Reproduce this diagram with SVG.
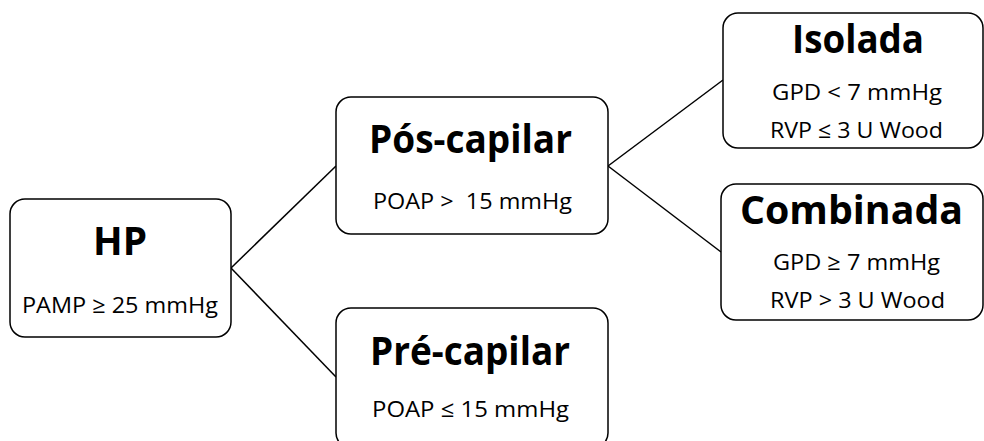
<svg xmlns="http://www.w3.org/2000/svg" width="984" height="441" viewBox="0 0 984 441">
<style>
.box{fill:#fff;stroke:#000;stroke-width:1.5}
.t{font-family:"Open Sans","Liberation Sans",sans-serif;font-weight:bold;font-size:39px;fill:#000}
.s{font-family:"Open Sans","Liberation Sans",sans-serif;font-size:22.5px;fill:#000}
.c{fill:none;stroke:#000;stroke-width:1.5}
</style>
<rect width="984" height="441" fill="#fff"/>
<g id="connectors">
<line class="c" x1="231" y1="268" x2="336" y2="166"/>
<line class="c" x1="231" y1="268" x2="336" y2="377"/>
<line class="c" x1="608" y1="166" x2="723" y2="80"/>
<line class="c" x1="608" y1="166" x2="721" y2="252"/>
</g>
<g id="hp">
<rect class="box" x="10" y="199" width="221" height="138" rx="15"/>
<text class="t" x="93" y="255" textLength="54" lengthAdjust="spacingAndGlyphs">HP</text>
<text class="s" x="22" y="313" textLength="196" lengthAdjust="spacingAndGlyphs">PAMP ≥ 25 mmHg</text>
</g>
<g id="pos-capilar">
<rect class="box" x="336" y="97" width="272" height="137" rx="15"/>
<text class="t" x="369" y="153" textLength="203" lengthAdjust="spacingAndGlyphs">Pós-capilar</text>
<text class="s" x="373" y="209" textLength="199" lengthAdjust="spacingAndGlyphs" xml:space="preserve">POAP &gt;  15 mmHg</text>
</g>
<g id="pre-capilar">
<rect class="box" x="336" y="308" width="272" height="140" rx="15"/>
<text class="t" x="370" y="365" textLength="200" lengthAdjust="spacingAndGlyphs">Pré-capilar</text>
<text class="s" x="372" y="417" textLength="197" lengthAdjust="spacingAndGlyphs">POAP ≤ 15 mmHg</text>
</g>
<g id="isolada">
<rect class="box" x="723" y="13" width="260" height="135" rx="15"/>
<text class="t" x="792" y="53" textLength="132" lengthAdjust="spacingAndGlyphs">Isolada</text>
<text class="s" x="772" y="100" textLength="170" lengthAdjust="spacingAndGlyphs">GPD &lt; 7 mmHg</text>
<text class="s" x="770" y="138" textLength="173" lengthAdjust="spacingAndGlyphs">RVP ≤ 3 U Wood</text>
</g>
<g id="combinada">
<rect class="box" x="721" y="184" width="262" height="136" rx="15"/>
<text class="t" x="740" y="224" textLength="223" lengthAdjust="spacingAndGlyphs">Combinada</text>
<text class="s" x="773" y="270" textLength="167" lengthAdjust="spacingAndGlyphs">GPD ≥ 7 mmHg</text>
<text class="s" x="770" y="308" textLength="175" lengthAdjust="spacingAndGlyphs">RVP &gt; 3 U Wood</text>
</g>
</svg>
